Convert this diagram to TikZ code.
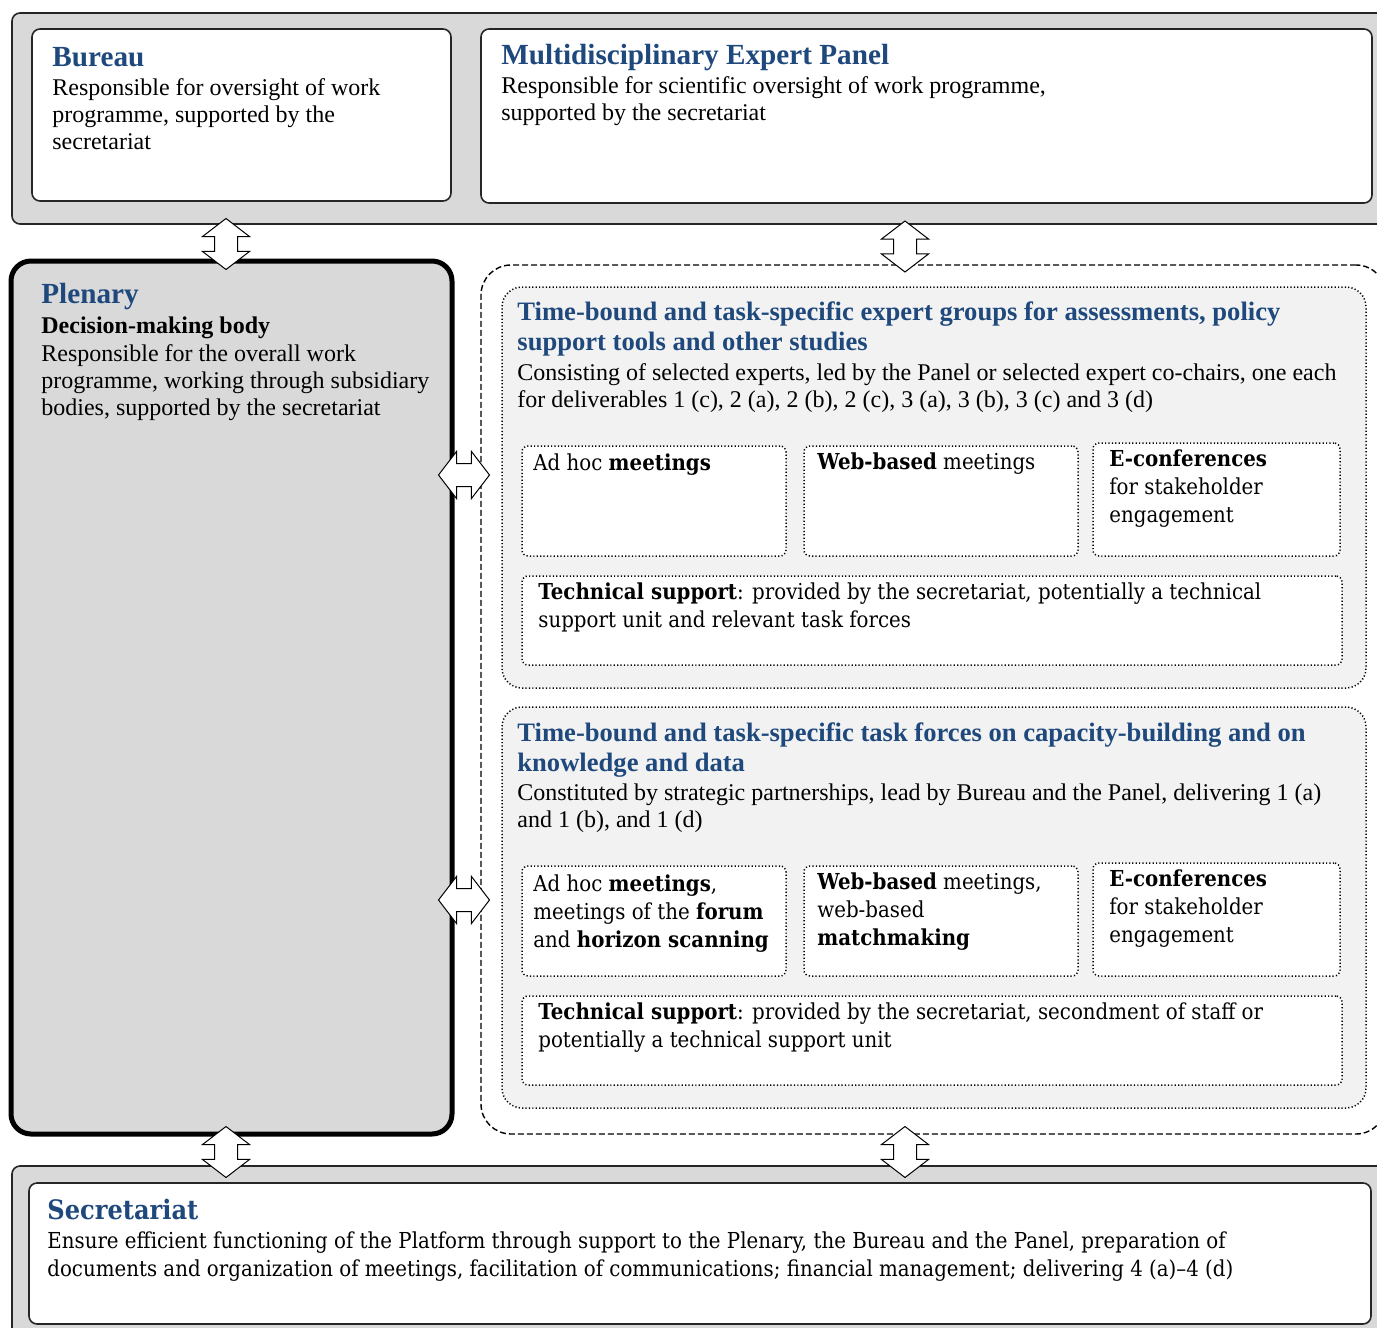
\documentclass[tikz,border=0pt]{standalone}
\usepackage{fontspec}
\setmainfont{Liberation Serif}
\newfontfamily\cambria[FakeStretch=0.9]{DejaVu Serif}
\usetikzlibrary{shapes.arrows,fit}

\definecolor{titleblue}{RGB}{31,73,125}
\definecolor{boxgray}{RGB}{217,217,217}
\definecolor{groupgray}{RGB}{242,242,242}

\tikzset{
  outerbox/.style={draw=black!85, line width=0.8pt, fill=boxgray, rounded corners=4pt, inner sep=0pt},
  whitebox/.style={draw=black!85, line width=0.8pt, fill=white, rounded corners=4pt, inner sep=0pt},
  plenbox/.style={draw=black, line width=2.5pt, fill=boxgray, rounded corners=10pt, inner sep=0pt},
  dashbox/.style={draw=black, line width=0.7pt, dash pattern=on 3pt off 1.5pt, rounded corners=15pt, inner sep=0pt},
  groupbox/.style={draw=black, line width=0.75pt, dash pattern=on 0.6pt off 1.1pt, fill=groupgray, rounded corners=10pt, inner sep=0pt},
  subbox/.style={draw=black, line width=0.75pt, dash pattern=on 0.6pt off 1.1pt, fill=white, rounded corners=3pt, inner sep=0pt},
  heading/.style={anchor=base west, inner sep=0pt, align=left, text=titleblue, font=\fontsize{14.6}{15}\selectfont\bfseries},
  subheading/.style={heading, font=\fontsize{13.3}{15}\selectfont\bfseries},
  tbody/.style={anchor=base west, inner sep=0pt, align=left, font=\fontsize{12}{13.5}\selectfont},
  cheading/.style={anchor=base west, inner sep=0pt, align=left, text=titleblue, font=\cambria\fontsize{13.4}{15}\selectfont\bfseries},
  cbody/.style={anchor=base west, inner sep=0pt, align=left, font=\cambria\fontsize{11}{14}\selectfont},
  linkarrow/.style={double arrow, draw=black, line width=0.5pt, fill=white, inner sep=0pt,
    text height=5.5pt, text depth=5.5pt, minimum width=1pt, double arrow head extend=6pt,
    double arrow tip angle=105, minimum height=25.5pt}
}

\begin{document}
\begin{tikzpicture}[x=0.5pt, y=-0.5pt]
  \useasboundingbox (0,0) rectangle (1377,1328);
  \clip (0,0) rectangle (1377,1328);

  % Bureau and Panel (multi-line texts sit on their last baseline)
  \node[outerbox, fit={(12,13) (1400,224)}] (toprow) {};
  \node[whitebox, fit={(32,29) (451,201)}] (bureau) {};
  \node[whitebox, fit={(481,29) (1372,203)}] (panel) {};
  \node[heading] (bureauT) at (52,66) {Bureau};
  \node[tbody] (bureauB) at (52,149) {Responsible for oversight of work\\programme, supported by the\\secretariat};
  \node[heading] (panelT) at (501,64) {Multidisciplinary Expert Panel};
  \node[tbody] (panelB) at (501,120) {Responsible for scientific oversight of work programme,\\supported by the secretariat};

  % Plenary
  \node[plenbox, fit={(11,261) (452,1134)}] (plenary) {};
  \node[heading] (plenaryT) at (41,303) {Plenary};
  \node[tbody, font=\fontsize{12}{13.5}\selectfont\bfseries] (plenaryS) at (41,333) {Decision-making body};
  \node[tbody] (plenaryB) at (41,415) {Responsible for the overall work\\programme, working through subsidiary\\bodies, supported by the secretariat};

  % subsidiary bodies
  \node[dashbox, fit={(481,265) (1386,1134)}] (subsid) {};

  % expert groups
  \node[groupbox, fit={(502,287) (1366,688)}] (experts) {};
  \node[subheading] (expertsT) at (517,350) {Time-bound and task-specific expert groups for assessments, policy\\support tools and other studies};
  \node[tbody] (expertsB) at (517,407) {Consisting of selected experts, led by the Panel or selected expert co-chairs, one each\\for deliverables 1 (c), 2 (a), 2 (b), 2 (c), 3 (a), 3 (b), 3 (c) and 3 (d)};
  \node[subbox, fit={(522,446) (786,556)}] (expAdhoc) {};
  \node[subbox, fit={(804,446) (1078,556)}] (expWeb) {};
  \node[subbox, fit={(1093,443) (1340,556)}] (expConf) {};
  \node[subbox, fit={(522,576) (1342,665)}] (expTech) {};
  \node[cbody] (expAdhocT) at (533,470) {Ad hoc \textbf{meetings}};
  \node[cbody] (expWebT) at (817,469) {\textbf{Web-based} meetings};
  \node[cbody] (expConfT) at (1109,522) {\textbf{E-conferences}\\for stakeholder\\engagement};
  \node[cbody] (expTechT) at (538,627) {\textbf{Technical support}: provided by the secretariat, potentially a technical\\support unit and relevant task forces};

  % task forces
  \node[groupbox, fit={(502,707) (1366,1108)}] (forces) {};
  \node[subheading] (forcesT) at (517,771) {Time-bound and task-specific task forces on capacity-building and on\\knowledge and data};
  \node[tbody] (forcesB) at (517,827) {Constituted by strategic partnerships, lead by Bureau and the Panel, delivering 1 (a)\\and 1 (b), and 1 (d)};
  \node[subbox, fit={(522,866) (786,976)}] (tfAdhoc) {};
  \node[subbox, fit={(804,866) (1078,976)}] (tfWeb) {};
  \node[subbox, fit={(1093,863) (1340,976)}] (tfConf) {};
  \node[subbox, fit={(522,996) (1342,1085)}] (tfTech) {};
  \node[cbody] (tfAdhocT) at (533,947) {Ad hoc \textbf{meetings},\\meetings of the \textbf{forum}\\and \textbf{horizon scanning}};
  \node[cbody] (tfWebT) at (817,945) {\textbf{Web-based} meetings,\\web-based\\\textbf{matchmaking}};
  \node[cbody] (tfConfT) at (1109,942) {\textbf{E-conferences}\\for stakeholder\\engagement};
  \node[cbody] (tfTechT) at (538,1047) {\textbf{Technical support}: provided by the secretariat, secondment of staff or\\potentially a technical support unit};

  % Secretariat
  \node[outerbox, fit={(12,1166) (1400,1360)}] (bottomrow) {};
  \node[whitebox, fit={(29,1183) (1371,1324)}] (secretariat) {};
  \node[cheading] (secretariatT) at (47,1219) {Secretariat};
  \node[cbody] (secretariatB) at (47,1276) {Ensure efficient functioning of the Platform through support to the Plenary, the Bureau and the Panel, preparation of\\documents and organization of meetings, facilitation of communications; financial management; delivering 4 (a)–4 (d)};

  % links
  \node[linkarrow, rotate=90] (bureauLink) at (226,244) {};
  \node[linkarrow, rotate=90] (panelLink) at (905,246.5) {};
  \node[linkarrow, rotate=90] (plenSecLink) at (226,1152) {};
  \node[linkarrow, rotate=90] (subSecLink) at (905,1152) {};
  \node[linkarrow] (expertsLink) at (464,475) {};
  \node[linkarrow] (forcesLink) at (464,900) {};
\end{tikzpicture}
\end{document}
